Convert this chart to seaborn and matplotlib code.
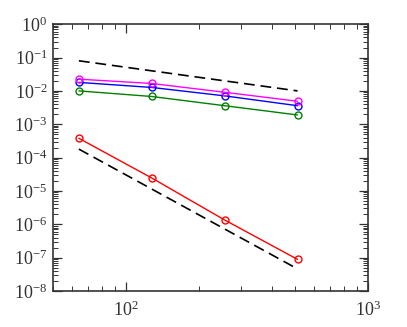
import numpy as np
import pandas as pd
import matplotlib
matplotlib.use('Agg')
import matplotlib.pyplot as plt
import seaborn as sb
from matplotlib.ticker import LogLocator, NullFormatter

# grid sizes and errors
n = [64, 128, 256, 512]
err_green = [1.0e-2, 6.8e-3, 3.6e-3, 1.9e-3]
err_blue = [1.8e-2, 1.27e-2, 7.1e-3, 3.6e-3]
err_magenta = [2.25e-2, 1.67e-2, 9.1e-3, 4.9e-3]
err_red = [3.8e-4, 2.45e-5, 1.35e-6, 8.9e-8]

# reference slopes (first / last point only)
ref_n = [64, 512]
ref_order1 = [8.0e-2, 1.0e-2]
ref_order4 = [1.8e-4, 4.6e-8]

yticks = [1e-8, 1e-7, 1e-6, 1e-5, 1e-4, 1e-3, 1e-2, 1e-1, 1e0]
xticks = [1e2, 1e3]

sb.set_style('ticks')
plt.rcParams['font.family'] = ['Liberation Serif', 'DejaVu Serif']
plt.rcParams['mathtext.fontset'] = 'custom'
plt.rcParams['mathtext.rm'] = 'Liberation Serif'
plt.rcParams['mathtext.it'] = 'Liberation Serif:italic'

fig, ax = plt.subplots(figsize=(4.07, 3.27), dpi=100)
fig.subplots_adjust(left=0.13, right=0.904, top=0.926, bottom=0.11)

mk = dict(marker='o', markersize=5, markerfacecolor='none', markeredgewidth=1.0)
dash = (0, (6.5, 3.5))
sb.lineplot(x=ref_n, y=ref_order1, ax=ax, color='black', linewidth=1.2, linestyle=dash)
sb.lineplot(x=ref_n, y=ref_order4, ax=ax, color='black', linewidth=1.2, linestyle=dash)
sb.lineplot(x=n, y=err_green, ax=ax, color='#008000', linewidth=1.0, markeredgecolor='#008000', **mk)
sb.lineplot(x=n, y=err_blue, ax=ax, color='#0000ff', linewidth=1.0, markeredgecolor='#0000ff', **mk)
sb.lineplot(x=n, y=err_magenta, ax=ax, color='#ff00ff', linewidth=1.0, markeredgecolor='#ff00ff', **mk)
sb.lineplot(x=n, y=err_red, ax=ax, color='#ff0000', linewidth=1.0, markeredgecolor='#ff0000', **mk)

ax.set_xscale('log')
ax.set_yscale('log')
ax.set_xticks(xticks)
ax.set_yticks(yticks)
ax.set_xlim(50, 1000)
ax.set_ylim(1e-8, 1)
ax.yaxis.set_minor_locator(LogLocator(base=10, subs=np.arange(2, 10), numticks=100))
ax.yaxis.set_minor_formatter(NullFormatter())
ax.xaxis.set_minor_locator(LogLocator(base=10, subs=np.arange(2, 10), numticks=100))
ax.xaxis.set_minor_formatter(NullFormatter())

ax.tick_params(which='both', direction='in', top=True, right=True, labelsize=13,
               colors='#333333')
ax.tick_params(which='major', length=6.5, width=0.9)
ax.tick_params(which='minor', length=3.6, width=0.7)
ax.tick_params(axis='x', which='major', pad=7)
ax.tick_params(axis='y', which='major', pad=4)
for s in ax.spines.values():
    s.set_linewidth(1.2)
    s.set_color('#333333')
ax.set_xlabel('')
ax.set_ylabel('')

plt.savefig('out.png', dpi=100)
